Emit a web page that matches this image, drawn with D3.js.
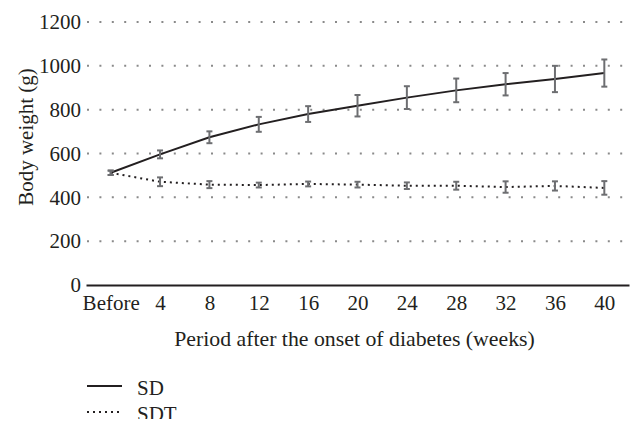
<!DOCTYPE html>
<html>
<head>
<meta charset="utf-8">
<script src="https://cdn.jsdelivr.net/npm/d3@7"></script>
<style>
  html, body { margin: 0; padding: 0; background: #fff; }
  svg { display: block; }
  text { font-family: "Liberation Serif", "Times New Roman", serif; fill: #231f20; }
</style>
</head>
<body>
<svg id="chart" width="644" height="432"></svg>
<script>
// ---- data ----
const categories = ["Before", "4", "8", "12", "16", "20", "24", "28", "32", "36", "40"];
const sdMean = [512, 596, 674, 733, 780, 818, 855, 888, 916, 940, 967];
const sdErr  = [10, 18, 27, 34, 36, 49, 52, 54, 51, 60, 62];
const sdtMean = [512, 471, 458, 456, 461, 458, 453, 453, 447, 452, 443];
const sdtErr  = [10, 20, 16, 11, 11, 13, 15, 18, 26, 21, 31];
const yTicks = [0, 200, 400, 600, 800, 1000, 1200];
const seriesNames = ["SD", "SDT"];

// ---- layout ----
const svg = d3.select("#chart");
const mLeft = 86, mRight = 629, mTop = 22, mBottom = 285;
const FONT = '"Liberation Serif", "Times New Roman", serif';

const x = d3.scalePoint().domain(categories).range([mLeft, mRight]).padding(0.5);
const y = d3.scaleLinear().domain([0, 1200]).range([mBottom, mTop]);

// gridlines
svg.append("g")
  .selectAll("line")
  .data(yTicks.filter(d => d > 0))
  .join("line")
  .attr("x1", mLeft + 1).attr("x2", mRight)
  .attr("y1", d => y(d)).attr("y2", d => y(d))
  .attr("stroke", "#8a8a8a")
  .attr("stroke-width", 2)
  .attr("stroke-dasharray", "2,10.4");

// y axis (labels only)
const yAxis = svg.append("g")
  .attr("transform", `translate(${mLeft},0)`)
  .call(d3.axisLeft(y).tickValues(yTicks).tickFormat(d3.format("d")).tickSize(0).tickPadding(5));
yAxis.attr("font-family", FONT);
yAxis.select(".domain").remove();
yAxis.selectAll("text").style("font-family", FONT).style("font-size", "21px").attr("fill", "#231f20");

// x axis
const xAxis = svg.append("g")
  .attr("transform", `translate(0,${mBottom})`)
  .call(d3.axisBottom(x).tickSize(0).tickPadding(10));
xAxis.attr("font-family", FONT);
xAxis.select(".domain").attr("stroke", "#231f20").attr("stroke-width", 2);
xAxis.selectAll("text").style("font-family", FONT).style("font-size", "21px").attr("fill", "#231f20");

// axis titles
svg.append("text")
  .attr("x", (mLeft + mRight) / 2 - 3).attr("y", 346)
  .attr("text-anchor", "middle")
  .style("font-family", FONT)
  .style("font-size", "21.8px")
  .text("Period after the onset of diabetes (weeks)");

svg.append("text")
  .attr("transform", "translate(33,137) rotate(-90)")
  .attr("text-anchor", "middle")
  .style("font-family", FONT)
  .style("font-size", "21px")
  .text("Body weight (g)");

// lines
const line = d3.line().x((d, i) => x(categories[i])).y(d => y(d));

svg.append("path")
  .datum(sdtMean)
  .attr("d", line)
  .attr("fill", "none")
  .attr("stroke", "#231f20")
  .attr("stroke-width", 2)
  .attr("stroke-dasharray", "2,4");

svg.append("path")
  .datum(sdMean)
  .attr("d", line)
  .attr("fill", "none")
  .attr("stroke", "#231f20")
  .attr("stroke-width", 2);

// error bars
function errorBars(mean, err) {
  const g = svg.append("g").attr("stroke", "#6d6e71").attr("stroke-width", 2).attr("fill", "none");
  const data = mean.map((m, i) => ({ c: categories[i], lo: m - err[i], hi: m + err[i] }));
  g.selectAll(".v").data(data).join("line")
    .attr("x1", d => x(d.c)).attr("x2", d => x(d.c))
    .attr("y1", d => y(d.lo)).attr("y2", d => y(d.hi));
  g.selectAll(".t").data(data).join("line")
    .attr("x1", d => x(d.c) - 3).attr("x2", d => x(d.c) + 3)
    .attr("y1", d => y(d.hi)).attr("y2", d => y(d.hi));
  g.selectAll(".b").data(data).join("line")
    .attr("x1", d => x(d.c) - 3).attr("x2", d => x(d.c) + 3)
    .attr("y1", d => y(d.lo)).attr("y2", d => y(d.lo));
}
errorBars(sdtMean, sdtErr);
errorBars(sdMean, sdErr);

// legend (clipped at bottom like the reference)
svg.append("clipPath").attr("id", "legclip")
  .append("rect").attr("x", 0).attr("y", 360).attr("width", 644).attr("height", 59);
const leg = svg.append("g").attr("clip-path", "url(#legclip)");
const legItems = leg.selectAll("g").data(seriesNames).join("g")
  .attr("transform", (d, i) => `translate(0,${386 + i * 26})`);
legItems.append("line")
  .attr("x1", 87).attr("x2", 122)
  .attr("stroke", "#231f20").attr("stroke-width", 2)
  .attr("stroke-dasharray", (d, i) => i === 1 ? "2,4" : null);
legItems.append("text")
  .attr("x", 137).attr("y", 9)
  .style("font-family", FONT)
  .style("font-size", "21px")
  .text(d => d);
</script>
</body>
</html>
